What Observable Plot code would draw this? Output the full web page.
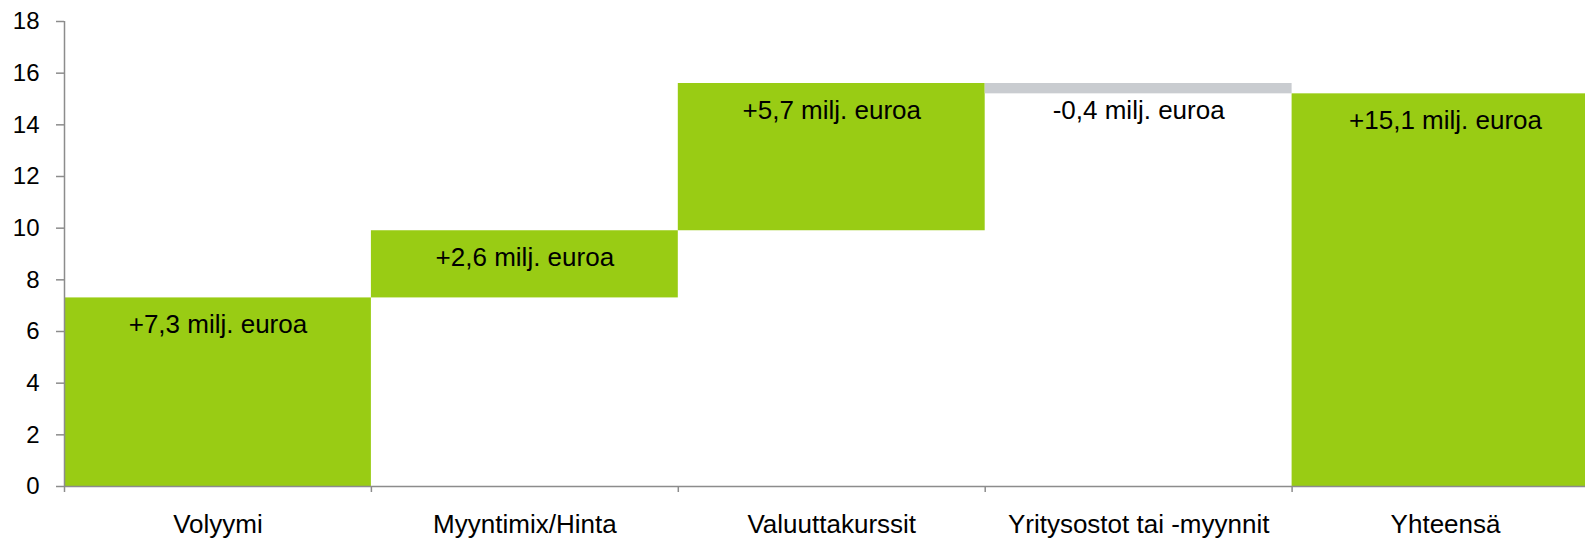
<!DOCTYPE html>
<html><head><meta charset="utf-8">
<script src="https://cdn.jsdelivr.net/npm/d3@7"></script>
<script src="https://cdn.jsdelivr.net/npm/@observablehq/plot@0.6"></script>
<style>
html,body{margin:0;padding:0;overflow:hidden;background:#fff}
</style>
</head><body><div id="chart"></div>
<script>
const categories = ["Volyymi", "Myyntimix/Hinta", "Valuuttakurssit", "Yritysostot tai -myynnit", "Yhteensä"];
const lows  = [0, 7.3, 9.9, 15.2, 0];
const highs = [7.3, 9.9, 15.6, 15.6, 15.2];
const kinds = ["up", "up", "up", "down", "total"];
const valueLabels = ["+7,3 milj. euroa", "+2,6 milj. euroa", "+5,7 milj. euroa", "-0,4 milj. euroa", "+15,1 milj. euroa"];
const yTicks = [0, 2, 4, 6, 8, 10, 12, 14, 16, 18];
const boundaries = [0, 1, 2, 3, 4, 5];

const GREEN = "#99cc14", GREY = "#c9ccd0", AXIS = "#8c8c8c";
const data = categories.map((c, i) => ({i, c, low: lows[i], high: highs[i], kind: kinds[i], label: valueLabels[i]}));

const chart = Plot.plot({
  width: 1599,
  height: 538,
  marginLeft: 64,
  marginRight: 0.5,
  marginTop: 21,
  marginBottom: 52,
  style: {fontFamily: "'Liberation Sans', Arial, sans-serif", color: "#000", background: "#fff", maxWidth: "none"},
  x: {domain: [0, 5], axis: null},
  y: {domain: [0, 18], axis: null},
  marks: [
    Plot.rect(data, {x1: d => d.i, x2: d => d.i + 1, y1: "low", y2: "high",
      fill: d => d.kind === "down" ? GREY : GREEN}),
    Plot.ruleY([0], {stroke: AXIS, strokeWidth: 1.5}),
    Plot.ruleX([0], {y1: 0, y2: 18, stroke: AXIS, strokeWidth: 1.5}),
    Plot.axisY(yTicks, {tickSize: 8, stroke: AXIS, strokeWidth: 1.5, tickFormat: () => ""}),
    Plot.axisY(yTicks, {tickSize: 0, tickPadding: 25, fontSize: 24, fill: "#000"}),
    Plot.axisX(boundaries, {tickSize: 6, stroke: AXIS, strokeWidth: 1.5, tickFormat: () => ""}),
    Plot.text(data, {x: d => d.i + 0.5, y: 0, text: "c", dy: 38, fontSize: 26, fill: "#000"}),
    Plot.text(data, {x: d => d.i + 0.5, y: "high", text: "label", dy: 27, fontSize: 26, fill: "#000"})
  ]
});
chart.style.maxWidth = "none";
document.getElementById("chart").appendChild(chart);
</script>
</body></html>
